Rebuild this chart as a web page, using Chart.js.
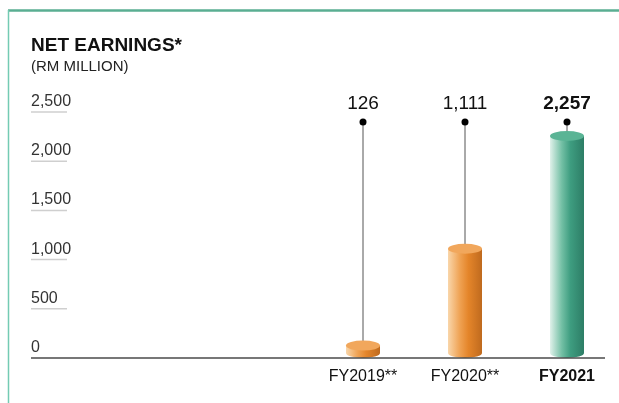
<!DOCTYPE html>
<html>
<head>
<meta charset="utf-8">
<script src="https://cdn.jsdelivr.net/npm/chart.js@4"></script>
<style>
  body { margin: 0; background: #fff; }
  canvas { display: block; }
</style>
</head>
<body>
<canvas id="earningsChart" width="619" height="403"></canvas>
<script>
// Net earnings (RM million)
const categories = ['FY2019**', 'FY2020**', 'FY2021'];
const netEarnings = [126, 1111, 2257];
const yTicks = [0, 500, 1000, 1500, 2000, 2500];
const highlight = [false, false, true];

const FONT = '"Liberation Sans", Arial, Helvetica, sans-serif';

const barStyles = {
    orange: { stops: ['#f9d6aa', '#efa253', '#e4852a', '#bf6a1e'], top: '#f1a75c' },
    green: { stops: ['#e0f1ea', '#72bfa4', '#3e9d80', '#2d7d66'], top: '#5ab495' }
};

const decorPlugin = {
    id: 'decor',
    beforeDraw(chart) {
        const ctx = chart.ctx;
        const y = chart.scales.y;
        ctx.save();
        // frame lines
        ctx.strokeStyle = '#5aae92';
        ctx.lineWidth = 2.5;
        ctx.beginPath();
        ctx.moveTo(8, 10.5);
        ctx.lineTo(619, 10.5);
        ctx.stroke();
        ctx.strokeStyle = '#74cbb3';
        ctx.lineWidth = 1.5;
        ctx.beginPath();
        ctx.moveTo(8.5, 10);
        ctx.lineTo(8.5, 403);
        ctx.stroke();

        // title
        ctx.fillStyle = '#111';
        ctx.textBaseline = 'alphabetic';
        ctx.textAlign = 'left';
        ctx.font = 'bold 19px ' + FONT;
        ctx.fillText('NET EARNINGS*', 31, 51);
        ctx.font = '15px ' + FONT;
        ctx.fillStyle = '#222';
        ctx.fillText('(RM MILLION)', 31, 71);

        // y ticks with short rules
        yTicks.forEach(v => {
            const py = y.getPixelForValue(v);
            ctx.font = '16px ' + FONT;
            ctx.fillStyle = '#333';
            ctx.textBaseline = 'alphabetic';
            ctx.fillText(v.toLocaleString('en-US'), 31, py - 6);
            if (v > 0) {
                ctx.strokeStyle = '#cfcfcf';
                ctx.lineWidth = 1.5;
                ctx.beginPath();
                ctx.moveTo(31, py);
                ctx.lineTo(67, py);
                ctx.stroke();
            }
        });
        ctx.restore();
    },
    afterDatasetsDraw(chart) {
        const ctx = chart.ctx;
        const y = chart.scales.y;
        const meta = chart.getDatasetMeta(0);
        const dotY = 122;
        ctx.save();
        meta.data.forEach((el, i) => {
            const cx = el.x;
            const rx = el.width / 2;
            const ry = 5;
            const top = el.y;
            const bottomC = el.base - 5;
            const style = highlight[i] ? barStyles.green : barStyles.orange;

            // stem and dot
            ctx.strokeStyle = '#555';
            ctx.lineWidth = 1;
            ctx.beginPath();
            ctx.moveTo(cx, dotY);
            ctx.lineTo(cx, top);
            ctx.stroke();
            ctx.fillStyle = '#000';
            ctx.beginPath();
            ctx.arc(cx, dotY, 3.5, 0, Math.PI * 2);
            ctx.fill();

            // cylinder body
            const g = ctx.createLinearGradient(cx - rx, 0, cx + rx, 0);
            g.addColorStop(0, style.stops[0]);
            g.addColorStop(0.35, style.stops[1]);
            g.addColorStop(0.6, style.stops[2]);
            g.addColorStop(1, style.stops[3]);
            ctx.fillStyle = g;
            ctx.beginPath();
            ctx.moveTo(cx - rx, top);
            ctx.lineTo(cx - rx, bottomC);
            ctx.ellipse(cx, bottomC, rx, ry, 0, Math.PI, 0, true);
            ctx.lineTo(cx + rx, top);
            ctx.closePath();
            ctx.fill();
            // top cap
            ctx.fillStyle = style.top;
            ctx.beginPath();
            ctx.ellipse(cx, top, rx, ry, 0, 0, Math.PI * 2);
            ctx.fill();

            // value label
            ctx.fillStyle = '#111';
            ctx.textAlign = 'center';
            ctx.textBaseline = 'alphabetic';
            ctx.font = (highlight[i] ? 'bold ' : '') + '19px ' + FONT;
            ctx.fillText(netEarnings[i].toLocaleString('en-US'), cx, 109);

            // category label
            ctx.font = (highlight[i] ? 'bold ' : '') + '16px ' + FONT;
            ctx.fillText(categories[i], cx, 381);
        });

        // baseline
        const zeroY = y.getPixelForValue(0);
        ctx.strokeStyle = '#4a4a4a';
        ctx.lineWidth = 1.5;
        ctx.beginPath();
        ctx.moveTo(31, zeroY);
        ctx.lineTo(605, zeroY);
        ctx.stroke();
        ctx.restore();
    }
};

new Chart(document.getElementById('earningsChart'), {
    type: 'bar',
    data: {
        labels: categories,
        datasets: [{
            data: netEarnings,
            backgroundColor: 'rgba(0,0,0,0)',
            barThickness: 34
        }]
    },
    options: {
        responsive: false,
        animation: false,
        layout: { padding: { left: 312, right: 1, top: 112, bottom: 45 } },
        plugins: {
            legend: { display: false },
            tooltip: { enabled: false }
        },
        scales: {
            x: { display: false, offset: true },
            y: { display: false, min: 0, max: 2500 }
        }
    },
    plugins: [decorPlugin]
});
</script>
</body>
</html>
